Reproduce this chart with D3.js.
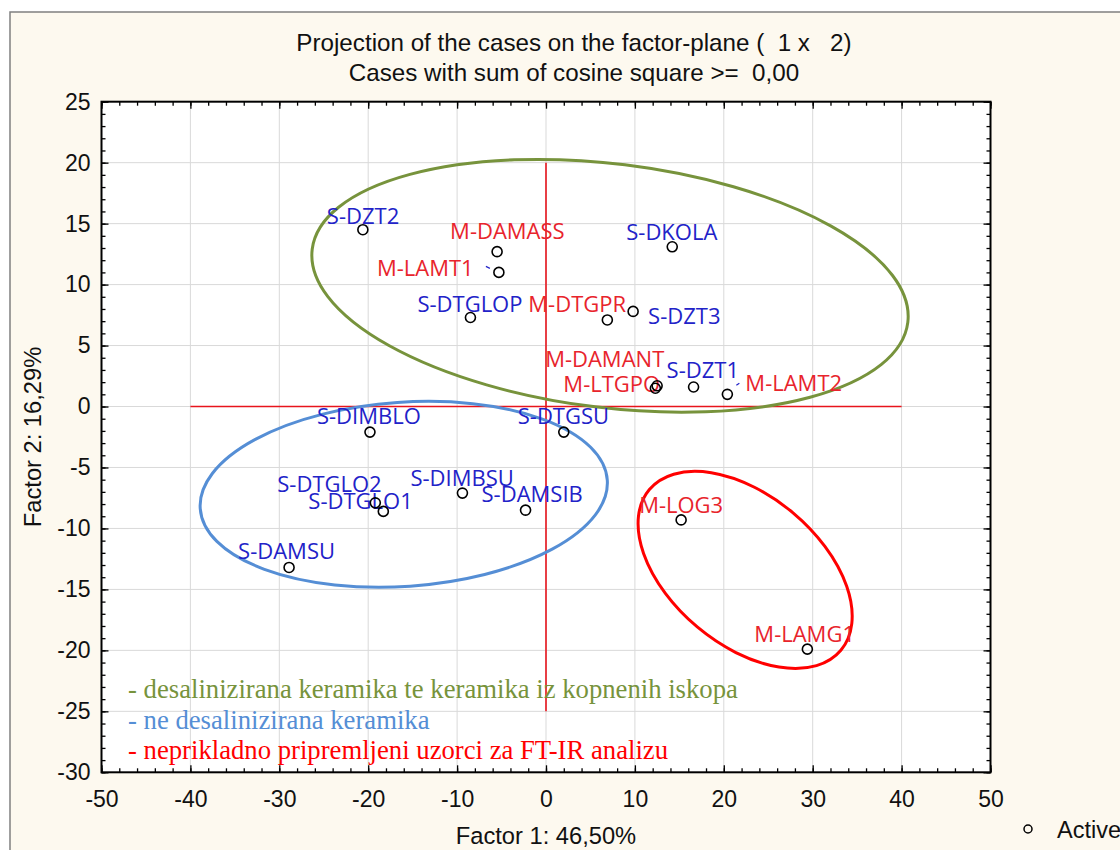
<!DOCTYPE html>
<html><head><meta charset="utf-8">
<script src="https://cdn.jsdelivr.net/npm/d3@7"></script>
<style>body{margin:0;background:#fff;} svg{display:block} text{white-space:pre}</style>
</head><body>
<svg id="chart" width="1120" height="850"></svg>
<script>
// ---------------- data ----------------
const caseNames = ["S-DZT2","M-DAMASS","M-LAMT1","S-DKOLA","S-DTGLOP","M-DTGPR","S-DZT3",
  "M-DAMANT","M-LTGPO","S-DZT1","M-LAMT2","S-DIMBLO","S-DTGSU","S-DTGLO2","S-DTGLO1",
  "S-DIMBSU","S-DAMSIB","S-DAMSU","M-LOG3","M-LAMG1"];
const factor1 = [-20.6,-5.5,-5.3,14.2,-8.5,6.9,9.8,12.5,12.3,16.6,20.4,-19.8,2.0,-19.2,-18.3,-9.4,-2.3,-28.9,15.2,29.4];
const factor2 = [14.5,12.7,11.0,13.1,7.3,7.1,7.8,1.7,1.5,1.6,1.0,-2.1,-2.1,-7.9,-8.6,-7.1,-8.5,-13.2,-9.3,-19.9];
const xTicks = [-50,-40,-30,-20,-10,0,10,20,30,40,50];
const yTicks = [-30,-25,-20,-15,-10,-5,0,5,10,15,20,25];
const titleLines = ["Projection of the cases on the factor-plane (  1 x   2)", "Cases with sum of cosine square >=  0,00"];
const xTitle = "Factor 1: 46,50%";
const yTitle = "Factor 2: 16,29%";
const legendText = ["- desalinizirana keramika te keramika iz kopnenih iskopa",
  "- ne desalinizirana keramika",
  "- neprikladno pripremljeni uzorci za FT-IR analizu"];
const seriesName = "Active";
// group ellipses in data units: centre, semi-axes
const ellipseCx = [7.2, -16.0, 22.4];
const ellipseCy = [9.9, -7.2, -13.4];
const ellipseRx = [33.75, 22.95, 14.06];
const ellipseRy = [10.0, 7.55, 6.11];
const ellipseAngle = [7, -4, 40];

// ---------------- layout / style ----------------
const labelDx = [-36,-47,-122,-46,-53,-79,15,-112,-92,-27,18,-53,-46,-98,-75,-52,-44,-51,-42,-53];
const labelDy = [-6,-13,4,-7,-6,-8,13,-19,4,-9,-3,-8,-8,-11,-2,-7,-8,-8,-7,-7];
const ellipseColors = ["#77933c","#558ed5","#ff0000"];
const blueLab = "#2222c8", redLab = "#e8242c";
const sans = "'Liberation Sans', Arial, sans-serif";

const svg = d3.select("#chart");
const W = 1120, H = 850;
const x = d3.scaleLinear().domain([-50,50]).range([101.5,990.5]);
const y = d3.scaleLinear().domain([-30,25]).range([772.3,101.7]);

// frame
svg.append("rect").attr("x",0).attr("y",0).attr("width",W).attr("height",H).attr("fill","#fff");
svg.append("rect").attr("x",10).attr("y",12).attr("width",W+20).attr("height",H+20)
  .attr("fill","#fdf9ef").attr("stroke","#808080").attr("stroke-width",1.5);
svg.append("rect").attr("x",x(-50)).attr("y",y(25)).attr("width",x(50)-x(-50)).attr("height",y(-30)-y(25))
  .attr("fill","#fff");

// grid
const g = svg.append("g");
g.selectAll("line.gx").data(xTicks.slice(1,-1)).join("line")
  .attr("x1",d=>x(d)).attr("x2",d=>x(d)).attr("y1",y(25)).attr("y2",y(-30))
  .attr("stroke","#d9d9d9").attr("stroke-width",1);
g.selectAll("line.gy").data(yTicks.slice(1,-1)).join("line")
  .attr("y1",d=>y(d)).attr("y2",d=>y(d)).attr("x1",x(-50)).attr("x2",x(50))
  .attr("stroke","#d9d9d9").attr("stroke-width",1);

// red reference axes
svg.append("line").attr("x1",x(-40)).attr("x2",x(40)).attr("y1",y(0)).attr("y2",y(0))
  .attr("stroke","#e8141c").attr("stroke-width",1.6);
svg.append("line").attr("x1",x(0)).attr("x2",x(0)).attr("y1",y(20)).attr("y2",y(-25))
  .attr("stroke","#e8141c").attr("stroke-width",1.6);

// axes (inside ticks)
const xMinor = d3.range(-50,51,2), yMinor = d3.range(-30,26,1);
const fmt = d => String(d);
function axisGroup(gen, tx, ty){ return svg.append("g").attr("transform",`translate(${tx},${ty})`).call(gen); }
const axes = [
  axisGroup(d3.axisBottom(x).tickValues(xMinor).tickSize(-4).tickFormat(""), 0, y(-30)),
  axisGroup(d3.axisTop(x).tickValues(xMinor).tickSize(-4).tickFormat(""), 0, y(25)),
  axisGroup(d3.axisLeft(y).tickValues(yMinor).tickSize(-4).tickFormat(""), x(-50), 0),
  axisGroup(d3.axisRight(y).tickValues(yMinor).tickSize(-4).tickFormat(""), x(50), 0),
  axisGroup(d3.axisBottom(x).tickValues(xTicks).tickSize(-7).tickPadding(18).tickFormat(fmt), 0, y(-30)),
  axisGroup(d3.axisTop(x).tickValues(xTicks).tickSize(-7).tickFormat(""), 0, y(25)),
  axisGroup(d3.axisLeft(y).tickValues(yTicks).tickSize(-7).tickPadding(11).tickFormat(fmt), x(-50), 0),
  axisGroup(d3.axisRight(y).tickValues(yTicks).tickSize(-7).tickFormat(""), x(50), 0)
];
axes.forEach(a=>{
  a.select(".domain").remove();
  a.selectAll(".tick line").attr("stroke","#000").attr("stroke-width",1.3);
  a.selectAll(".tick text").attr("fill","#111").style("font-family",sans).style("font-size","23px");
});
svg.append("rect").attr("x",x(-50)).attr("y",y(25)).attr("width",x(50)-x(-50)).attr("height",y(-30)-y(25))
  .attr("fill","none").attr("stroke","#000").attr("stroke-width",2);

// titles
svg.selectAll("text.title").data(titleLines).join("text")
  .attr("x",574).attr("y",(d,i)=>51+i*30).attr("text-anchor","middle")
  .style("font-family",sans).style("font-size","24.2px").attr("fill","#111").text(d=>d);
svg.append("text").attr("x",x(0)).attr("y",844).attr("text-anchor","middle")
  .style("font-family",sans).style("font-size","23.7px").attr("fill","#111").text(xTitle);
svg.append("text").attr("transform",`translate(41,${y(-2.5)}) rotate(-90)`).attr("text-anchor","middle")
  .style("font-family",sans).style("font-size","23.7px").attr("fill","#111").text(yTitle);

// ellipses
svg.selectAll("ellipse.grp").data(ellipseCx).join("ellipse")
  .attr("transform",(d,i)=>`translate(${x(ellipseCx[i])},${y(ellipseCy[i])}) rotate(${ellipseAngle[i]})`)
  .attr("rx",(d,i)=>x(ellipseCx[i]+ellipseRx[i])-x(ellipseCx[i]))
  .attr("ry",(d,i)=>y(ellipseCy[i])-y(ellipseCy[i]+ellipseRy[i]))
  .attr("fill","none").attr("stroke",(d,i)=>ellipseColors[i]).attr("stroke-width",3);

// points
const pts = caseNames.map((n,i)=>({name:n, f1:factor1[i], f2:factor2[i], dx:labelDx[i], dy:labelDy[i]}));
svg.selectAll("text.lab").data(pts).join("text")
  .attr("x",d=>x(d.f1)+d.dx).attr("y",d=>y(d.f2)+d.dy)
  .style("font-family","'Open Sans', sans-serif").style("font-size","22px")
  .attr("fill",d=>d.name.startsWith("M")?redLab:blueLab).text(d=>d.name);
// small leader marks
const lead = [2,10];
svg.selectAll("line.lead").data(lead).join("line")
  .attr("x1",(d,i)=>x(factor1[d])+(i?9:-13)).attr("y1",(d,i)=>y(factor2[d])+(i?-9:-6))
  .attr("x2",(d,i)=>x(factor1[d])+(i?12:-9)).attr("y2",(d,i)=>y(factor2[d])+(i?-11:-4))
  .attr("stroke",blueLab).attr("stroke-width",1.2);
svg.selectAll("circle.pt").data(pts).join("circle")
  .attr("cx",d=>x(d.f1)).attr("cy",d=>y(d.f2)).attr("r",5)
  .attr("fill","none").attr("stroke","#000").attr("stroke-width",1.6);

// in-plot legend text
svg.selectAll("text.leg").data(legendText).join("text")
  .attr("x",128).attr("y",(d,i)=>698+i*30.5)
  .style("font-family","'Liberation Serif', 'Times New Roman', serif").style("font-size","26.7px")
  .attr("fill",(d,i)=>ellipseColors[i]).text(d=>d);

// series legend
svg.append("circle").attr("cx",1028).attr("cy",829).attr("r",4).attr("fill","none").attr("stroke","#000").attr("stroke-width",1.5);
svg.append("text").attr("x",1057).attr("y",838).style("font-family",sans).style("font-size","23.5px").attr("fill","#111").text(seriesName);
</script>
</body></html>
